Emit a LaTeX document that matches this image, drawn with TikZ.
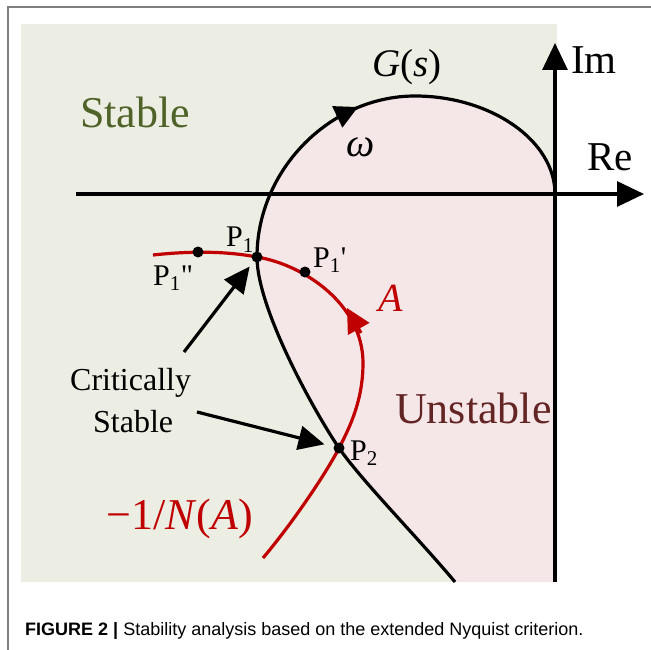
\documentclass[tikz,border=0pt]{standalone}
\usepackage{fontspec}
\setmainfont{Liberation Serif}
\newfontfamily\capfont{Liberation Sans}
\usetikzlibrary{arrows.meta}
\definecolor{stable-bg}{HTML}{ECEEE3}
\definecolor{unstable-bg}{HTML}{F5E6E8}
\definecolor{stable-txt}{HTML}{4F6228}
\definecolor{unstable-txt}{HTML}{632523}
\definecolor{desc-red}{HTML}{C00000}
\definecolor{frame-gray}{HTML}{808080}
\newcommand{\fsz}[1]{\fontsize{#1}{#1}\selectfont}

\begin{document}
\begin{tikzpicture}[x=1pt, y=-1pt,
        every node/.style={inner sep=0pt, anchor=base west},
        curve/.style={line width=3.2pt, line join=round},
        axisarrow/.style={line width=3.2pt, -{Triangle[length=27pt, width=25pt]}},
        headarrow/.style={line width=3.2pt, -{Triangle[length=#1pt, width=#1pt]}},
        callout/.style={line width=3.2pt, -{Triangle[length=26pt, width=24pt]}},
        plabel/.style={font=\fsz{30}}]
      \useasboundingbox (0,0) rectangle (651,650);
      \draw[frame-gray, line width=1.2pt] (651,7) -- (8,7) -- (8,650);
      \fill[stable-bg] (21,24) rectangle (557,582);

      \coordinate (O) at (555,194);
      \coordinate (P1) at (257,257);
      \coordinate (P2) at (339,448);
      \coordinate (P1a) at (305,272);
      \coordinate (P1b) at (198,252);
      \coordinate (gBot) at (455,582);
      \coordinate (gTop) at (415,96);
      \coordinate (rL) at (153,255);
      \coordinate (rR) at (363,363);
      \coordinate (rBot) at (263,558);
      \coordinate (reL) at (76,194);
      \coordinate (reR) at (644,194);
      \coordinate (imB) at (555,582);
      \coordinate (imT) at (555,43);

      \fill[unstable-bg] (gBot) .. controls (420,540) and (361,480) .. (P2)
            .. controls (317,416) and (257,310) .. (P1)
            .. controls (257,170) and (330,96) .. (gTop)
            .. controls (490,96) and (555,140) .. (O) -- (imB) -- cycle;

      \draw[axisarrow] (reL) -- (reR);
      \draw[axisarrow] (imB) -- (imT);

      \draw[curve] (gBot) .. controls (420,540) and (361,480) .. (P2)
            .. controls (317,416) and (257,310) .. (P1)
            .. controls (257,170) and (330,96) .. (gTop)
            .. controls (490,96) and (555,140) .. (O);
      \coordinate (gA) at (337,117);
      \coordinate (gB) at (358,107);
      \draw[headarrow=23] (gA) -- (gB);

      \draw[curve, desc-red] (rL) .. controls (190,251) and (225,251) .. (P1)
            .. controls (305,265) and (363,305) .. (rR)
            .. controls (363,400) and (350,427) .. (P2)
            .. controls (328,470) and (295,520) .. (rBot);
      \coordinate (rA) at (361,333);
      \coordinate (rB) at (347,308);
      \draw[desc-red, headarrow=24] (rA) -- (rB);

      \foreach \p in {P1, P2, P1a, P1b}
        \fill (\p) circle (5.5pt);

      \coordinate (c1) at (184,352);
      \coordinate (c2) at (197,412);
      \draw[callout, shorten >=12pt] (c1) -- (P1);
      \draw[callout, shorten >=15pt] (c2) -- (P2);

      \node[stable-txt, font=\fsz{44}] (stab) at (80,128) {Stable};
      \node[unstable-txt, font=\fsz{44}] (unstab) at (395,423) {Unstable};
      \node[font=\fsz{39}] (gs) at (372,77) {\textit{G}(\textit{s})};
      \node[font=\fsz{40}] (om) at (346,157) {\textit{ω}};
      \node[font=\fsz{41}] (im) at (571,74) {Im};
      \node[font=\fsz{41}] (re) at (587,171) {Re};
      \node[plabel] (lP1) at (226,247) {P\textsubscript{1}};
      \node[plabel] (lP1b) at (153,285) {P\textsubscript{1}\textquotedbl};
      \node[plabel] (lP1a) at (313,267) {P\textsubscript{1}\textquotesingle};
      \node[plabel] (lP2) at (350,460) {P\textsubscript{2}};
      \node[desc-red, font=\fsz{40}] (lA) at (378,311) {\textit{A}};
      \node[desc-red, font=\fsz{44}] (lN) at (106,529) {−1/\textit{N}(\textit{A})};
      \node[font=\fsz{32}] (crit1) at (70,390) {Critically};
      \node[font=\fsz{32}] (crit2) at (93,432) {Stable};
      \node[font=\capfont\fsz{18}] (cap) at (25,635)
            {\textbf{FIGURE 2 |} Stability analysis based on the extended Nyquist criterion.};
    \end{tikzpicture}
\end{document}
